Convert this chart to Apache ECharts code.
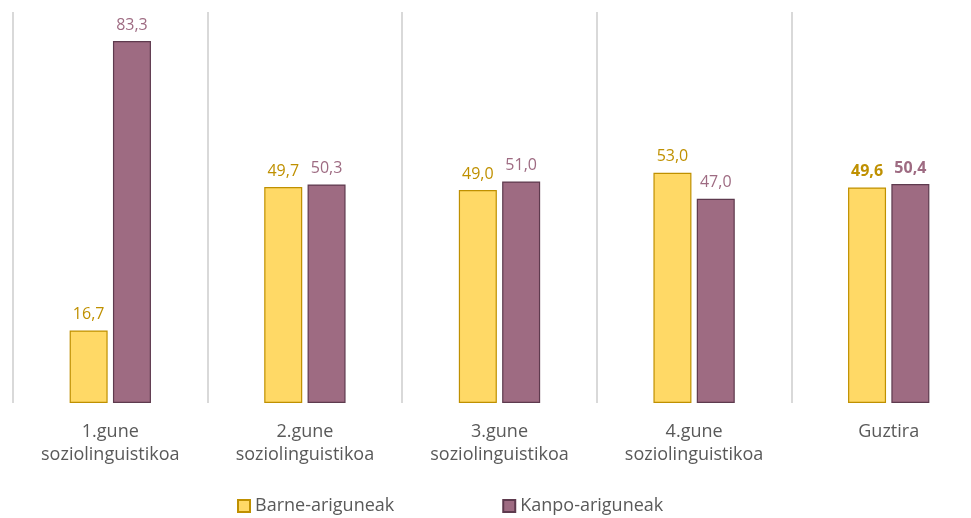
<!DOCTYPE html>
<html><head><meta charset="utf-8">
<script src="https://cdn.jsdelivr.net/npm/echarts@6/dist/echarts.min.js"></script>
<style>html,body{margin:0;padding:0;background:#fff}#c{width:971px;height:518px}</style>
</head><body><div id="c"></div>
<script>
const categories = ['1.gune\nsoziolinguistikoa','2.gune\nsoziolinguistikoa','3.gune\nsoziolinguistikoa','4.gune\nsoziolinguistikoa','Guztira'];
const barne = [16.7, 49.7, 49.0, 53.0, 49.6];
const kanpo = [83.3, 50.3, 51.0, 47.0, 50.4];
const seriesNames = ['Barne-ariguneak','Kanpo-ariguneak'];

const font = '"Open Sans", "DejaVu Sans", sans-serif';
function lbl(color){
  return {show:true, position:'top', distance:8, fontFamily:font, fontSize:16, color:color,
    formatter:p=>p.value.toFixed(1).replace('.',',')};
}
function mk(vals, name, fill, border, lc){
  return {name:name, type:'bar', barWidth:38, barGap:'14%',
    itemStyle:{color:fill, borderColor:border, borderWidth:1.2},
    label:lbl(lc),
    data: vals.map((v,i)=> i===vals.length-1 ? {value:v, label:{fontWeight:'bold'}} : v)};
}
const chart = echarts.init(document.getElementById('c'));
chart.setOption({
  animation:false,
  grid:{left:13, width:973, top:12, height:391, containLabel:false, outerBoundsMode:'none'},
  legend:{top:492, left:232, itemGap:108, itemWidth:12, itemHeight:12,
    icon:'rect', textStyle:{fontFamily:font, fontSize:18, color:'#595959'}},
  xAxis:{type:'category', data:categories,
    axisLine:{show:false}, axisTick:{show:false},
    splitLine:{show:true, lineStyle:{color:'#d9d9d9', width:2}},
    axisLabel:{fontFamily:font, fontSize:18, color:'#595959', lineHeight:23, margin:17, interval:0}},
  yAxis:{type:'value', min:0, max:90, show:false, splitLine:{show:false}},
  series:[
    mk(barne, seriesNames[0], '#FFD966', '#BF9000', '#BF9000'),
    mk(kanpo, seriesNames[1], '#9E6B82', '#5E3A4E', '#9E6B82')
  ]
});
</script></body></html>
